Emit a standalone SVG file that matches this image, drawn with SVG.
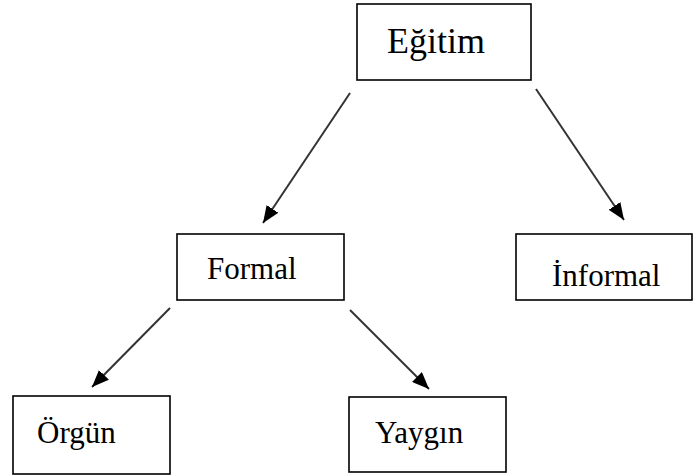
<svg xmlns="http://www.w3.org/2000/svg" width="694" height="476" viewBox="0 0 694 476">
<style>
.box{fill:#fff;stroke:#000;stroke-width:1.6}
.lbl{font-family:"Liberation Serif","Times New Roman",serif;font-size:31px;fill:#000}
.con{stroke:#333;stroke-width:2;fill:none}
</style>
<defs>
<marker id="ah" markerUnits="userSpaceOnUse" markerWidth="18" markerHeight="14" viewBox="0 0 18 14" refX="17" refY="7" orient="auto">
<path d="M0,0 L17,7 L0,14 Z" fill="#000"/>
</marker>
</defs>
<rect width="694" height="476" fill="#fff"/>
<g id="connectors">
<line class="con" x1="350" y1="93" x2="263" y2="223" marker-end="url(#ah)"/>
<line class="con" x1="536" y1="89" x2="624" y2="220" marker-end="url(#ah)"/>
<line class="con" x1="170" y1="308" x2="92" y2="387" marker-end="url(#ah)"/>
<line class="con" x1="350" y1="310" x2="429" y2="389" marker-end="url(#ah)"/>
</g>
<g id="egitim">
<rect class="box" x="357" y="4" width="174" height="76"/>
<text class="lbl" x="387" y="53" style="font-size:36px">Eğitim</text>
</g>
<g id="formal">
<rect class="box" x="177" y="234" width="167" height="66"/>
<text class="lbl" x="207" y="279">Formal</text>
</g>
<g id="informal">
<rect class="box" x="516" y="234" width="176" height="66"/>
<text class="lbl" x="552" y="286">İnformal</text>
</g>
<g id="orgun">
<rect class="box" x="13" y="396" width="157" height="78"/>
<text class="lbl" x="37" y="443">Örgün</text>
</g>
<g id="yaygin">
<rect class="box" x="349" y="397" width="157" height="75"/>
<text class="lbl" x="375" y="443">Yaygın</text>
</g>
</svg>
